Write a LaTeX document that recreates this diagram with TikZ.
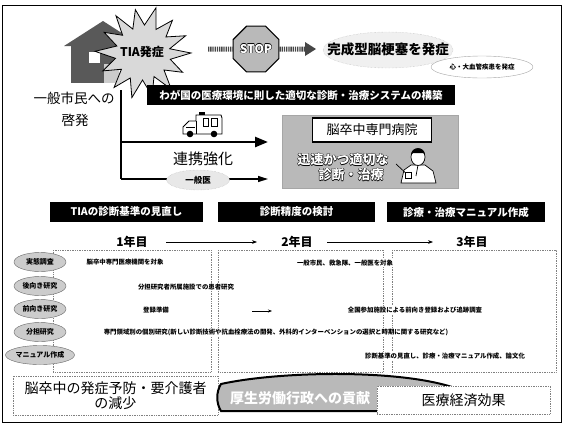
\documentclass[tikz,border=0pt]{standalone}
\usepackage{fontspec}
\setmainfont{Noto Sans CJK JP}
\usetikzlibrary{shapes.geometric,arrows.meta}
% white lettering with a thin dark rim
\newcommand\outl[1]{{\setbox0=\hbox{#1}%
\rlap{\color{black}\kern-.5pt\copy0}\rlap{\color{black}\kern.5pt\copy0}%
\rlap{\color{black}\raise.5pt\copy0}\rlap{\color{black}\lower.5pt\copy0}%
\color{white}\box0}}
\begin{document}
\begin{tikzpicture}[x=1pt,y=-1pt,
  fnt/.style={font=\fontsize{#1}{#1}\selectfont},
  bfnt/.style={font=\fontsize{#1}{#1}\bfseries\selectfont},
  banner/.style={fill=black,text=white,bfnt=10.5,minimum height=20pt,inner sep=0pt},
  studyoval/.style={ellipse,draw=gray!80!black,fill=gray!40,minimum width=52pt,minimum height=19pt,inner sep=0pt,bfnt=7},
  rowtext/.style={bfnt=6.4,fill=white,inner sep=1pt},
  yeartext/.style={bfnt=12},
  dotbox/.style={draw=gray,densely dotted,line width=0.7pt},
  hatcharrow/.style={draw=gray!55!black,line width=5pt,dash pattern=on 1.3pt off 0.9pt},
]
\useasboundingbox (0,0) rectangle (565,426);
\draw[line width=1pt] (2,5) rectangle (561,422);

% house
\fill[gray!70!black] (64,46) -- (103,21) -- (142,46) -- cycle;
\fill[gray!70!black] (71,46) rectangle (118,83);
\fill[gray!40] (104,64) rectangle (119,83);
\fill[white] (89,52) rectangle (100,63);

% TIA burst
\path[draw=black,line width=0.8pt,fill=gray!30]
  (143,53) ++(0:48)
  \foreach \a/\r in {13/28,26/44,39/27,52/46,65/26,78/44,91/27,104/46,117/28,
     130/45,143/27,156/44,169/28,182/48,195/27,208/44,221/27,234/46,247/26,
     260/44,273/28,286/47,299/27,312/44,325/28,338/46,351/27}
  { -- ([shift={(143,53)}]\a:\r) } -- cycle;
\node[bfnt=12] (tia) at (142,52) {TIA発症};

% stop sign and hatched arrows
\node[regular polygon,regular polygon sides=8,minimum size=45pt,fill=gray!55,
  draw=black,line width=1.2pt,inner sep=0pt,
  font=\fontsize{12}{12}\bfseries\selectfont] (stop) at (256,49) {\outl{STOP}};
\coordinate (hl) at (208,49);
\coordinate (hr) at (307,49);
\draw[hatcharrow] (hl) -- (stop.west);
\draw[hatcharrow] (stop.east) -- (hr);
\fill[gray!55!black] (305,42) -- (316,49) -- (305,56) -- cycle;

% completed infarction
\node[ellipse,fill=gray!12,draw=gray!60,densely dotted,minimum width=130pt,minimum height=36pt] (cloud) at (388,50) {};
\node[bfnt=13.5] (infarct) at (388,49) {完成型脳梗塞を発症};
\node[ellipse,draw=gray!70,fill=white,minimum width=102pt,minimum height=22pt,inner sep=0pt,bfnt=6.5] (cardio) at (482,67) {心・大血管疾患を発症};

% system construction banner
\node[banner,minimum width=308pt] (sys) at (301,95) {わが国の医療環境に則した適切な診断・治療システムの構築};

% public education
\node[fnt=13.5,align=center] (public) at (74,98) {一般市民への};
\node[fnt=13.5] (keihatsu) at (75,120) {啓発};

\coordinate (vtop) at (121,90);
\coordinate (vmid) at (121,142);
\coordinate (vbot) at (121,179);
\coordinate (tip1) at (268,142);
\coordinate (tip2) at (268,179);
\draw[line width=2.2pt] (vtop) -- (vbot);
\draw[line width=2.5pt,-{Triangle[length=13pt,width=10pt]}] (vmid) -- (tip1);
\draw[line width=1.5pt,-{Triangle[length=10pt,width=6pt]}] (vbot) -- (tip2);
\node[fnt=15] (renkei) at (203,159) {連携強化};
\node[ellipse,fill=gray!18,draw=gray!60,densely dotted,minimum width=63pt,minimum height=20pt,inner sep=0pt,bfnt=8.5] (gp) at (198,180) {一般医};

% ambulance
\draw[fill=white,line width=0.8pt] (183,134) -- (183,127) -- (189,121) -- (196,121)
  -- (196,115) -- (221,115) -- (222,118) -- (222,134) -- cycle;
\draw[line width=0.6pt] (196,121) -- (196,134) (203,118) rectangle (208,126) (211,118) rectangle (217,126)
  (186,127) -- (195,127);
\fill[black] (199,112) rectangle (205,115);
\fill[black] (190,134) circle (3.3) (214,134) circle (3.3);

% stroke hospital
\node[fill=gray!55,draw=gray!70,minimum width=176pt,minimum height=73pt,inner sep=0pt] (hosp) at (370,151.5) {};
\node[draw=black,line width=1.8pt,fill=white,minimum width=119pt,minimum height=24pt,inner sep=0pt,fnt=13] (hospname) at (372,130) {脳卒中専門病院};
\node[font=\fontsize{13}{13}\bfseries\selectfont] (quick) at (343,160) {\outl{迅速かつ適切な}};
\node[font=\fontsize{13}{13}\bfseries\selectfont] (care) at (351,175) {\outl{診断・治療}};
% doctor
\draw[fill=white,line width=0.7pt] (401,183) -- (404,170) -- (411,165) -- (425,165) -- (433,171) -- (436,183) -- cycle;
\draw[fill=white,line width=0.7pt] (418,157) ellipse (7 and 8.5);
\fill[black] (411,155) .. controls (411,146) and (425,146) .. (425,155) -- (423,153) -- (413,153) -- cycle;
\draw[line width=0.7pt] (418,165) -- (416,176) (396,164) -- (409,176);
\draw[fill=white,line width=0.7pt] (405,172) rectangle (411,178);

% three research themes
\node[banner,minimum width=153pt] (b1) at (126.5,212) {TIAの診断基準の見直し};
\node[banner,minimum width=157pt] (b2) at (296.5,212) {診断精度の検討};
\node[banner,minimum width=158pt] (b3) at (466,212) {診療・治療マニュアル作成};

% years
\node[yeartext] (y1) at (132,242) {1年目};
\node[yeartext] (y2) at (297,242) {2年目};
\node[yeartext] (y3) at (472,242) {3年目};
\draw[-{Stealth[length=5pt]},line width=0.7pt] (y1.east) ++(15,0) coordinate (ya) (ya) -- (257,242);
\draw[-{Stealth[length=5pt]},line width=0.7pt] (327,242) -- (433,242);

% year boxes
\draw[dotbox] (53,250) rectangle (211,372);
\draw[dotbox] (218,250) rectangle (383,372);
\draw[dotbox] (392,250) rectangle (556,372);

% study rows
\node[rowtext] (r1a) at (125,262) {脳卒中専門医療機関を対象};
\node[rowtext] (r1b) at (345,263) {一般市民、救急隊、一般医を対象};
\node[rowtext] (r2) at (186,287) {分担研究者所属施設での患者研究};
\node[rowtext] (r3a) at (156,310) {登録準備};
\coordinate (r3s) at (252,311);
\coordinate (r3e) at (272,311);
\draw[-{Stealth[length=4pt]},line width=0.7pt] (r3s) -- (r3e);
\node[rowtext] (r3b) at (415,310) {全国参加施設による前向き登録および追跡調査};
\node[rowtext] (r4) at (276,332) {専門領域別の個別研究(新しい診断技術や抗血栓療法の開発、外科的インターベンションの選択と時期に関する研究など)};
\node[rowtext] (r5) at (445,356) {診断基準の見直し、診療・治療マニュアル作成、論文化};

\node[studyoval] (o1) at (40,262) {実態調査};
\node[studyoval] (o2) at (40,286) {後向き研究};
\node[studyoval] (o3) at (40,309) {前向き研究};
\node[studyoval] (o4) at (40,332) {分担研究};
\node[studyoval] (o5) at (40,355) {マニュアル作成};

% outcomes
\node[dotbox,minimum width=205pt,minimum height=39pt,inner sep=0pt,align=center,fnt=14] (prevent) at (115.5,395.5) {脳卒中の発症予防・要介護者\\[1pt]の減少};
\path[fill=gray!55,draw=black,line width=2pt]
  (221,384) .. controls (280,371) and (400,369) .. (455,388) -- (455,411)
  -- (221,411) .. controls (216,403) and (216,392) .. (221,384) -- cycle;
\node[font=\fontsize{14}{14}\bfseries\selectfont,text=white] (admin) at (300,398) {厚生労働行政への貢献};
\node[dotbox,fill=white,minimum width=173pt,minimum height=28pt,inner sep=0pt,fnt=14] (econ) at (463.5,400) {医療経済効果};
\end{tikzpicture}
\end{document}
